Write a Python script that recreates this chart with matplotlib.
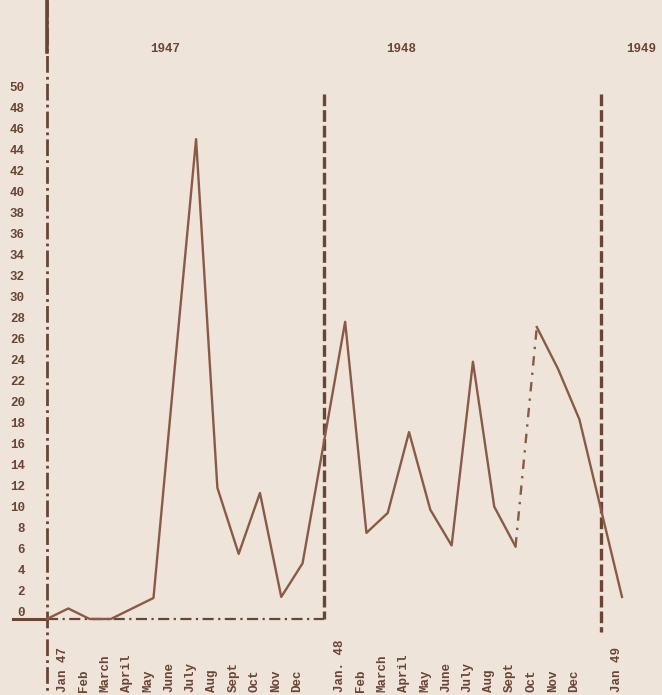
import matplotlib
matplotlib.use("Agg")
import matplotlib.pyplot as plt

# monthly values, Jan 1947 .. Jan 1949
months = ["Jan 47", "Feb", "March", "April", "May", "June", "July", "Aug",
          "Sept", "Oct", "Nov", "Dec",
          "Jan. 48", "Feb", "March", "April", "May", "June", "July", "Aug",
          "Sept", "Oct", "Nov", "Dec",
          "Jan 49"]
values = [1, 0, 0, 1, 2, 24, 45.7, 12.5, 6.2, 12.0, 2.1, 5.3,
          28.3, 8.2, 10.1, 17.8, 10.4, 7.0, 24.5, 10.7, 6.9, 27.8, 23.8, 19.0,
          2.1]
start_value = 0
years = ["1947", "1948", "1949"]
y_ticks = list(range(0, 51, 2))

BG = "#eee4d9"
INK = "#6a4536"
LINE = "#8a5a49"
FONT = "Liberation Mono"

# one blank column between years for the divider line
pos = [i + 1 + i // 12 for i in range(len(months))]
dividers = [13 * k for k in range(len(years))]

fig = plt.figure(figsize=(6.62, 6.95), dpi=100, facecolor=BG)
ax = fig.add_axes([47 / 662, 0, 575 / 662, 1])
ax.set_facecolor(BG)
ax.set_xlim(0, 27)
ax.set_ylim(-7.24, 58.95)
for s in ax.spines.values():
    s.set_visible(False)
ax.set_xticks([])
ax.set_yticks(y_ticks)
ax.set_yticklabels([str(v) for v in y_ticks], fontfamily=FONT,
                   fontweight="bold", fontsize=9, color=INK, va="bottom")
ax.tick_params(axis="y", length=0, pad=16)

# year divider lines
ax.plot([dividers[0]] * 2, [58.95, -6.9], color=INK, lw=2.0,
        ls=(0, (6, 1.5, 1, 1.5)), clip_on=False)
ax.plot([dividers[0]] * 2, [58.95, 54], color=INK, lw=2.6, clip_on=False)
ax.plot([dividers[1]] * 2, [50, 0], color=INK, lw=2.4, ls=(0, (3.5, 1.2)))
ax.plot([dividers[2]] * 2, [50, -1.2], color=INK, lw=2.4, ls=(0, (3.5, 1.2)),
        clip_on=False)

# zero line for 1947
ax.plot([-1.6, dividers[0]], [0, 0], color=INK, lw=2.2, clip_on=False)
ax.plot([dividers[0], dividers[1]], [0, 0], color=INK, lw=1.6,
        ls=(0, (5, 2, 1, 2)))

# data line (Sept -> Oct 1948 drawn dotted, as in the original)
cut = 20
xs = [dividers[0]] + pos[:cut + 1]
ys = [start_value] + values[:cut + 1]
ax.plot(xs, ys, color=LINE, lw=1.7, clip_on=False)
ax.plot(pos[cut:cut + 2], values[cut:cut + 2], color=LINE, lw=1.7,
        ls=(0, (4, 3, 1, 3)))
ax.plot(pos[cut + 1:], values[cut + 1:], color=LINE, lw=1.7, clip_on=False)

# month labels
for x, m in zip(pos, months):
    ax.text(x - 0.25, -6.95, m, rotation=90, ha="center", va="bottom",
            fontfamily=FONT, fontweight="bold", fontsize=9, color=INK)

# year labels
for x, y in zip([5.55, 16.65, 27.9], years):
    ax.text(x, 54.3, y, ha="center", va="center", fontfamily=FONT,
            fontweight="bold", fontsize=9, color=INK, clip_on=False)

fig.savefig("out.png", dpi=100, facecolor=BG)
